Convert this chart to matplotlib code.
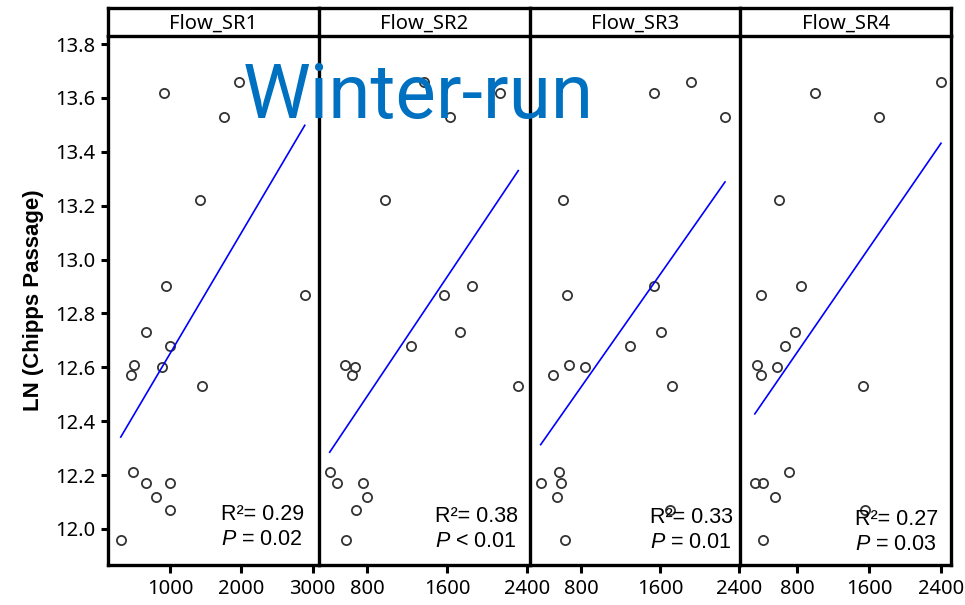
import numpy as np
import matplotlib
matplotlib.use("Agg")
import matplotlib.pyplot as plt

plt.rcParams['font.family'] = ['Noto Sans', 'DejaVu Sans']
plt.rcParams['mathtext.fontset'] = 'custom'
plt.rcParams['mathtext.it'] = 'Liberation Sans:italic'
plt.rcParams['mathtext.rm'] = 'Liberation Sans'

# Donnees
ln_chipps = [13.66, 13.62, 13.53, 13.22, 12.90, 12.87, 12.73, 12.68, 12.61,
             12.60, 12.57, 12.53, 12.21, 12.17, 12.17, 12.12, 12.07, 11.96]

flow_sr1 = [1968, 917, 1750, 1422, 944, 2889, 667, 1000, 496,
            885, 444, 1449, 472, 667, 1000, 806, 1000, 306]
flow_sr2 = [1366, 2130, 1625, 979, 1844, 1564, 1726, 1241, 578,
            679, 655, 2308, 429, 497, 760, 800, 696, 595]
flow_sr3 = [1908, 1538, 2256, 619, 1538, 656, 1604, 1296, 677,
            841, 513, 1723, 574, 390, 599, 554, 1699, 640]
flow_sr4 = [2400, 1000, 1713, 600, 848, 396, 778, 666, 358,
            581, 399, 1531, 708, 329, 425, 558, 1554, 421]

panel_names = ["Flow_SR1", "Flow_SR2", "Flow_SR3", "Flow_SR4"]
panel_flows = [flow_sr1, flow_sr2, flow_sr3, flow_sr4]
r2_labels = ["0.29", "0.38", "0.33", "0.27"]
p_labels = ["= 0.02", "< 0.01", "= 0.01", "= 0.03"]

x_ticks = [[1000, 2000, 3000], [800, 1600, 2400], [800, 1600, 2400], [800, 1600, 2400]]
y_ticks = [12.0, 12.2, 12.4, 12.6, 12.8, 13.0, 13.2, 13.4, 13.6, 13.8]

# Mise en page (pixels)
W, H = 965, 605
x_lims = [(127, 3085), (320, 2420), (277, 2410), (167, 2511)]
y_lim = (11.866, 13.83)
panel_left = 108
panel_w = 210.75
plot_top, plot_bottom = 36, 565
strip_top = 8
txt_x = [0.536, 0.55, 0.573, 0.545]
txt_y = [0.085, 0.081, 0.079, 0.075]

fig = plt.figure(figsize=(W / 100, H / 100), dpi=100)

for i in range(4):
    left = panel_left + i * panel_w
    ax = fig.add_axes([left / W, 1 - plot_bottom / H, panel_w / W, (plot_bottom - plot_top) / H])

    x = np.array(panel_flows[i], dtype=float)
    y = np.array(ln_chipps)

    # Points
    ax.plot(x, y, 'o', ms=6.6, mfc='none', mec='#333333', mew=1.3)

    # Droite de regression
    pente, origine = np.polyfit(x, y, 1)
    xx = np.array([x.min(), x.max()])
    ax.plot(xx, origine + pente * xx, color='#0000FF', lw=1.2)

    ax.set_xlim(x_lims[i])
    ax.set_ylim(y_lim)
    ax.set_xticks(x_ticks[i])
    ax.set_xticklabels([str(t) for t in x_ticks[i]], fontsize=14.5)
    ax.tick_params(axis='x', direction='out', length=6, width=2.2, pad=4, colors='black')

    if i == 0:
        ax.set_yticks(y_ticks)
        ax.set_yticklabels(["%.1f" % t for t in y_ticks], fontsize=14.5)
        ax.tick_params(axis='y', direction='out', length=5, width=2.2, pad=4)
        ax.set_ylabel("LN (Chipps Passage)", family='Liberation Sans', fontweight='bold',
                      fontsize=16, labelpad=8)
    else:
        ax.set_yticks([])

    for s in ['left', 'bottom']:
        ax.spines[s].set_linewidth(2.4)
    ax.spines['top'].set_linewidth(1.6)
    ax.spines['top'].set_color('#222222')
    if i == 3:
        ax.spines['right'].set_linewidth(2.4)
    else:
        ax.spines['right'].set_visible(False)

    # Texte R2 et P
    ax.text(txt_x[i], txt_y[i], "R\u00b2= " + r2_labels[i], transform=ax.transAxes,
            family='Liberation Sans', fontsize=15.5, ha='left', va='baseline')
    ax.text(txt_x[i], txt_y[i] - 0.047, "$P$ " + p_labels[i], transform=ax.transAxes,
            family='Liberation Sans', fontsize=15.5, ha='left', va='baseline')

    # Bandeau du titre
    st = fig.add_axes([left / W, 1 - plot_top / H, panel_w / W, (plot_top - strip_top) / H])
    st.set_xticks([])
    st.set_yticks([])
    for s in st.spines.values():
        s.set_linewidth(2.4)
    if i < 3:
        st.spines['right'].set_visible(False)
    st.text(0.5, 0.45, panel_names[i], ha='center', va='center', fontsize=14.5,
            transform=st.transAxes)

fig.text(243 / W, 1 - 118 / H, "Winter-run", color='#0070C0', family='Roboto',
         fontsize=55, ha='left', va='baseline')

fig.savefig("out.png", dpi=100)
